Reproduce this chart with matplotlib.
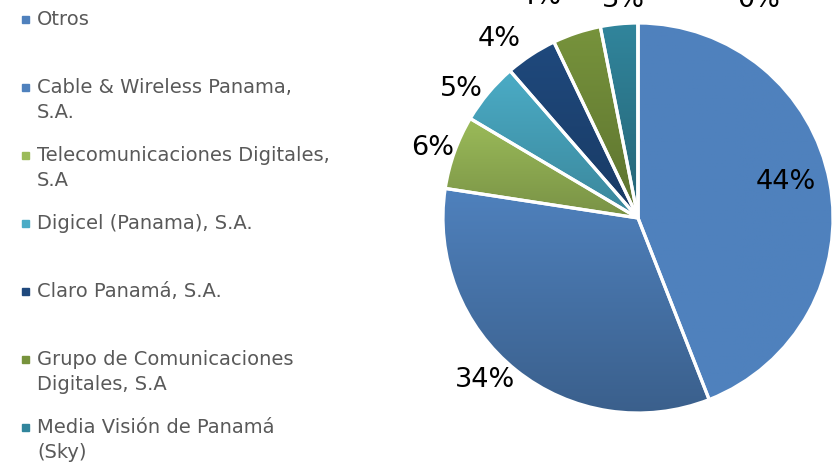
"""
Cuota de mercado por operador - grafico circular
"""

import numpy as np
import matplotlib.pyplot as plt
from matplotlib.colors import LinearSegmentedColormap, to_rgb
from matplotlib.patches import Rectangle

operadores = [
    'Otros',
    'Cable & Wireless Panama,\nS.A.',
    'Telecomunicaciones Digitales,\nS.A',
    'Digicel (Panama), S.A.',
    'Claro Panamá, S.A.',
    'Grupo de Comunicaciones\nDigitales, S.A',
    'Media Visión de Panamá\n(Sky)',
    'Otro operador',
]
cuota = [44.1, 33.4, 6.1, 5.1, 4.3, 4.0, 3.1, 0.0]
etiquetas = ['44%', '34%', '6%', '5%', '4%', '4%', '3%', '0%']

colores = ['#4F81BD', '#4F81BD', '#9BBB59', '#4BACC6',
           '#1F497D', '#77933C', '#31859C', '#8064A2']
oscuro = [1.0, 0.74, 0.78, 0.78, 0.8, 0.78, 0.75, 0.8]

# label placement: angle offset from wedge middle (deg), radial distance
lab_dang = [3.0, -4.7, 0.9, 3.7, 4.6, 5.4, -1.7, -29.0]
lab_dist = [0.78, 1.14, 1.11, 1.12, 1.16, 1.24, 1.12, 1.28]

W, H = 838, 463
fig = plt.figure(figsize=(W / 100, H / 100), dpi=100)
cx, cy, r = 638, H - 218, 195
ax = fig.add_axes([(cx - r) / W, (cy - r) / H, 2 * r / W, 2 * r / H])

wedges, _ = ax.pie(cuota, startangle=90, counterclock=False,
                   colors=colores, radius=1.0)

for i, w in enumerate(wedges):
    w.set_facecolor('none')
    w.set_edgecolor('white')
    w.set_linewidth(2.3)
    w.set_zorder(3)
    if cuota[i] <= 0:
        continue
    ext = w.get_path().get_extents()
    c = np.array(to_rgb(colores[i]))
    cmap = LinearSegmentedColormap.from_list('g', [c * oscuro[i], c])
    grad = np.linspace(0, 1, 256).reshape(-1, 1)
    im = ax.imshow(grad, extent=[ext.x0, ext.x1, ext.y0, ext.y1],
                   origin='lower', cmap=cmap, aspect='auto', zorder=2)
    im.set_clip_path(w)

ax.set_xlim(-1, 1)
ax.set_ylim(-1, 1)
ax.set_aspect('equal')
ax.axis('off')

for i, w in enumerate(wedges):
    mid = 0.5 * (w.theta1 + w.theta2) + lab_dang[i]
    d = lab_dist[i]
    ax.text(d * np.cos(np.radians(mid)), d * np.sin(np.radians(mid)),
            etiquetas[i], ha='center', va='center', fontsize=19.5,
            color='black', zorder=5)

# legend drawn by hand (Excel style, evenly spaced slots)
for i, nombre in enumerate(operadores[:7]):
    y = H - (19 + i * 68.0)
    fig.patches.append(Rectangle((22 / W, (y - 4) / H), 7 / W, 7 / H,
                                 transform=fig.transFigure,
                                 color=colores[i], zorder=3))
    fig.text(37 / W, (y + 9) / H, nombre, ha='left', va='top',
             fontsize=14, color='#595959', linespacing=1.42)

fig.savefig('out.png', dpi=100)
